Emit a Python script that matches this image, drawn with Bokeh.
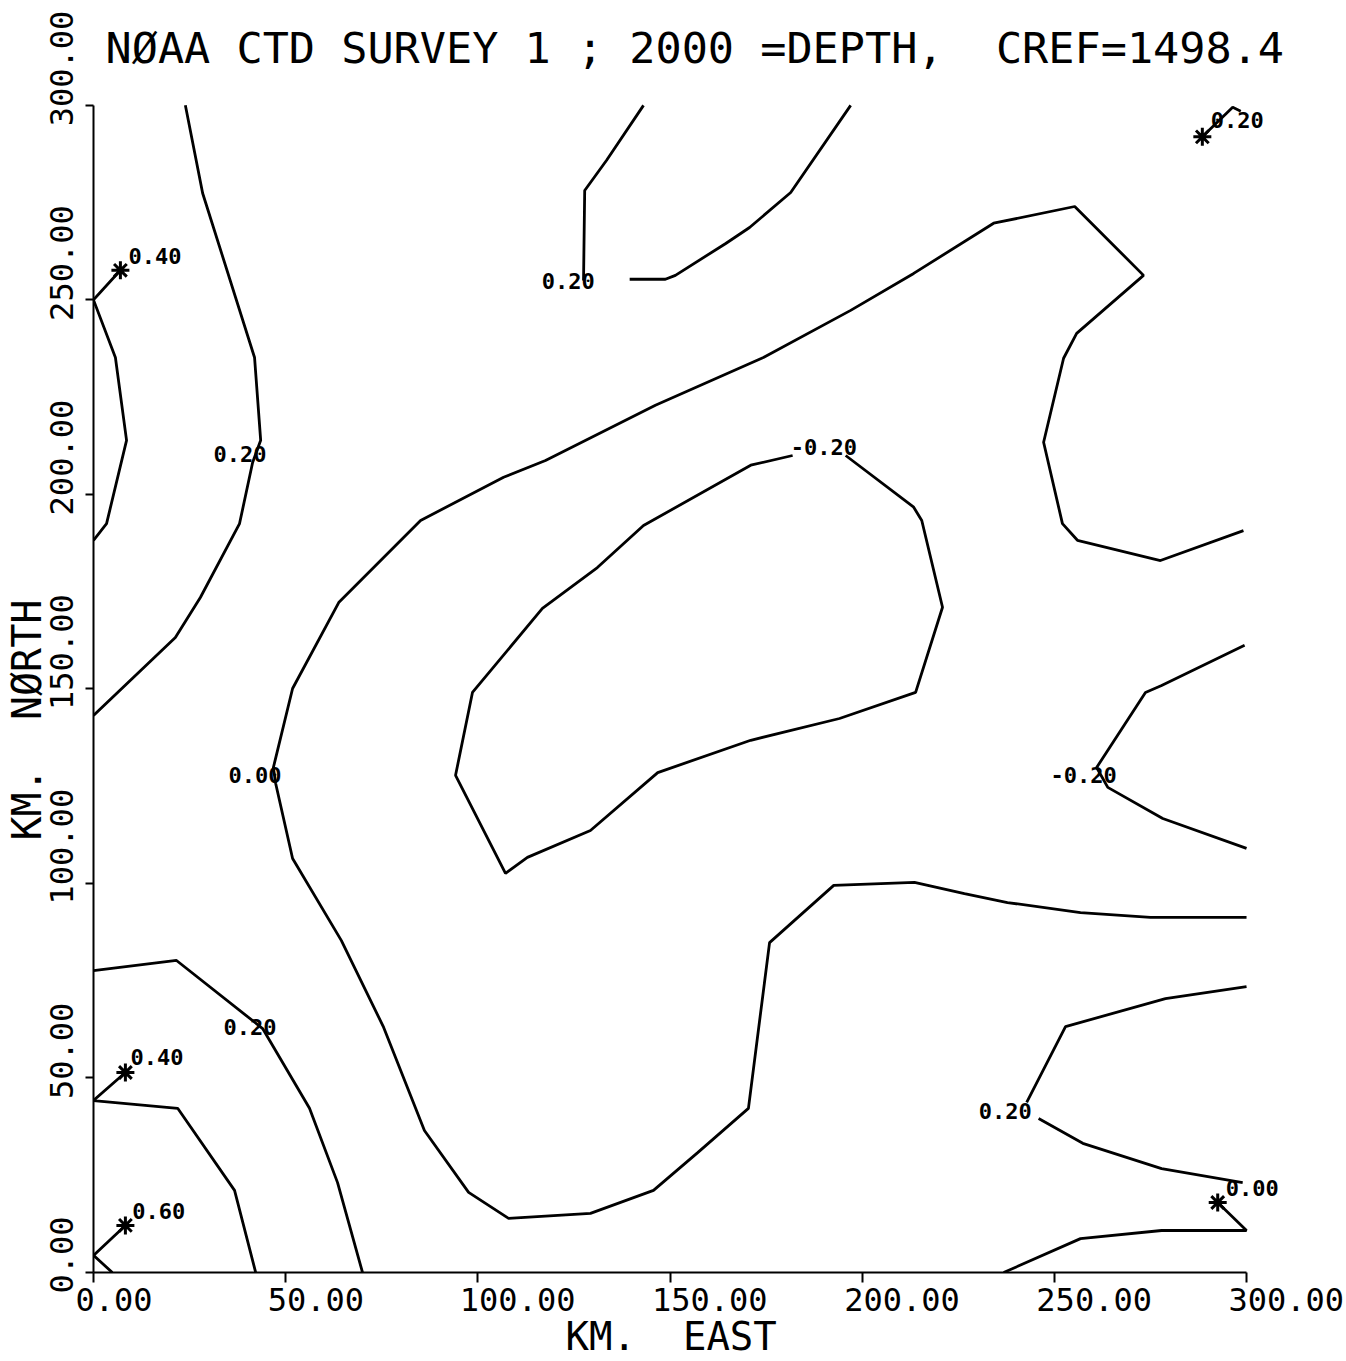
from bokeh.plotting import figure
from bokeh.models import FixedTicker, Range1d, ColumnDataSource, LinearAxis, Title
from bokeh.core.properties import value
from bokeh.embed import file_html
from bokeh.resources import INLINE

# ---------------- data ----------------
NB = "\u00a0"  # keeps the plotter's double spacing (SVG collapses plain double spaces)
TITLE = "NØAA CTD SURVEY 1 ; 2000 =DEPTH," + NB + " CREF=1498.4"
X_TITLE = "KM." + NB + " EAST"
Y_TITLE = "KM." + NB + " NØRTH"
X_TICKS = [0, 50, 100, 150, 200, 250, 300]
Y_TICKS = [0, 50, 100, 150, 200, 250, 300]

# contour polylines (km east, km north)
c020_nw_x = [23.9, 28.4, 41.9, 43.5, 41.4, 38.0, 27.8, 21.3, 0.0]
c020_nw_y = [300.0, 277.4, 235.2, 213.9, 208.2, 192.5, 173.5, 163.2, 143.2]

c040_nw_x = [7.0, 0.0, 5.7, 8.6, 3.4, 0.0]
c040_nw_y = [257.6, 250.0, 235.2, 213.9, 192.5, 188.2]

c000_main_x = [299.2, 277.6, 256.0, 252.1, 247.2, 252.4, 255.8, 273.2, 255.3, 234.2,
               213.4, 197.0, 174.3, 146.2, 117.6, 106.7, 85.1, 63.8, 51.8, 46.8,
               47.4, 51.8, 64.5, 75.5, 86.1, 97.6, 108.0, 129.3, 145.7, 157.2,
               170.4, 175.9, 192.6, 213.6, 226.6, 237.8, 256.8, 275.0, 300.0]
c000_main_y = [190.7, 183.0, 188.2, 192.5, 213.4, 235.0, 241.4, 256.3, 274.0, 269.7,
               256.8, 247.3, 235.2, 222.9, 208.7, 204.4, 193.3, 172.2, 150.1, 129.8,
               125.7, 106.4, 85.3, 63.0, 36.5, 20.6, 13.9, 15.2, 21.1, 30.8,
               42.2, 84.8, 99.5, 100.3, 97.4, 95.1, 92.5, 91.3, 91.3]

cm020_mid_x = [181.9, 171.0, 143.1, 131.1, 116.8, 98.6, 94.2, 107.2, 112.9, 129.3,
               146.8, 171.0, 194.1, 213.9, 220.9, 215.5, 213.4, 195.7]
cm020_mid_y = [210.0, 207.5, 192.0, 181.2, 170.7, 149.1, 127.8, 102.6, 106.7, 113.6,
               128.5, 136.8, 142.4, 149.1, 171.0, 193.3, 196.7, 210.0]

cm020_east_x = [299.5, 277.9, 273.7, 261.0, 263.9, 278.2, 300.0]
cm020_east_y = [161.2, 150.9, 149.1, 129.8, 124.7, 116.7, 109.0]

c020_n1_x = [143.1, 133.5, 127.8, 127.5]
c020_n1_y = [300.0, 285.9, 278.1, 255.0]
c020_n2_x = [139.5, 148.8, 151.4, 164.5, 170.7, 181.4, 197.0]
c020_n2_y = [255.3, 255.3, 256.3, 264.5, 268.6, 277.6, 300.0]

c020_ne_x = [288.5, 296.4, 298.5]
c020_ne_y = [291.9, 299.5, 298.5]

c040_sw_x = [8.3, 0.0, 21.9, 36.7, 42.2]
c040_sw_y = [51.4, 44.2, 42.2, 21.1, 0.0]

c020_sw_x = [0.0, 21.6, 44.0, 56.2, 63.5, 70.0]
c020_sw_y = [77.6, 80.2, 62.7, 42.2, 23.1, 0.0]

c060_sw_x = [8.3, 0.0, 4.9]
c060_sw_y = [12.1, 4.4, 0.0]

c020_se1_x = [300.0, 278.9, 252.9, 242.8]
c020_se1_y = [73.5, 70.4, 63.2, 43.7]
c020_se2_x = [245.9, 257.4, 277.9, 299.0]
c020_se2_y = [39.6, 33.2, 26.7, 23.1]

c000_se_x = [292.5, 300.0, 277.9, 256.8, 236.8]
c000_se_y = [18.0, 10.8, 10.8, 8.7, 0.0]

# station markers (*)
star_x = [7.0, 8.3, 8.3, 288.5, 292.5]
star_y = [257.6, 51.4, 12.1, 291.9, 18.0]

# contour value labels (left edge x, centre y)
clab_text = ["0.40", "0.20", "0.20", "0.20", "-0.20", "0.00", "-0.20",
             "0.20", "0.40", "0.60", "0.20", "0.00"]
clab_x = [9.1, 31.2, 116.6, 290.7, 181.4, 35.1, 249.0, 33.8, 9.6, 10.1, 230.3, 294.6]
clab_y = [261.4, 210.5, 254.8, 296.2, 212.1, 127.8, 127.8, 63.0, 55.3, 15.9, 41.6, 21.6]

CONTOURS = [
    (c020_nw_x, c020_nw_y), (c040_nw_x, c040_nw_y), (c000_main_x, c000_main_y),
    (cm020_mid_x, cm020_mid_y), (cm020_east_x, cm020_east_y),
    (c020_n1_x, c020_n1_y), (c020_n2_x, c020_n2_y), (c020_ne_x, c020_ne_y),
    (c040_sw_x, c040_sw_y), (c020_sw_x, c020_sw_y), (c060_sw_x, c060_sw_y),
    (c020_se1_x, c020_se1_y), (c020_se2_x, c020_se2_y), (c000_se_x, c000_se_y),
]

# ---------------- layout ----------------
PAGE_W, PAGE_H = 1346, 1361
KX = 1153 / 300.0          # px per km east
KY = 1167 / 300.0          # px per km north
XMAX, YMAX = 313.0, 310.5  # ranges run a little past the 300 km axes
ML, MB = 93, 89
FW = int(round(XMAX * KX))
FH = int(round(YMAX * KY))
MT = PAGE_H - MB - FH
MR = PAGE_W - ML - FW

FONT = "DejaVu Sans Mono"
ADV = 0.602                 # advance of a mono glyph, per em
TICK_FS = 32


def fmt(t):
    return "%.2f" % t


p = figure(frame_width=FW, frame_height=FH,
           x_range=Range1d(0, XMAX), y_range=Range1d(0, YMAX),
           output_backend="svg", toolbar_location=None,
           min_border_left=ML, min_border_right=MR, min_border_top=MT, min_border_bottom=MB)
p.xgrid.visible = False
p.ygrid.visible = False
p.outline_line_color = None
p.background_fill_color = "white"
p.border_fill_color = "white"

p.title.text = TITLE
p.title.text_font = FONT
p.title.text_font_size = "43.5px"
p.title.text_font_style = "normal"
p.title.text_color = "black"
p.title.align = "left"
p.title.offset = 12
p.title.standoff = -16

# axes carrying the rule and the ticks
for ax, ticks, tout in ((p.xaxis[0], X_TICKS, 10), (p.yaxis[0], Y_TICKS, 8)):
    ax.ticker = FixedTicker(ticks=ticks)
    ax.bounds = (0, 300)
    ax.axis_line_width = 2
    ax.axis_line_color = "black"
    ax.major_tick_line_width = 2
    ax.major_tick_line_color = "black"
    ax.major_tick_in = 0
    ax.major_tick_out = tout
    ax.minor_tick_line_color = None
    ax.major_label_overrides = {t: "" for t in ticks}
    ax.major_label_text_font_size = "1px"
    ax.major_label_standoff = 0

# axes carrying the tick labels (plotter style: label starts just before the tick)
xlab_pos = [round(t + (len(fmt(t)) * ADV * TICK_FS / 2 - 18) / KX, 4) for t in X_TICKS]
ylab_pos = [round(t + (len(fmt(t)) * ADV * TICK_FS / 2 - 21) / KY, 4) for t in Y_TICKS]

xlab_axis = LinearAxis(ticker=FixedTicker(ticks=xlab_pos),
                       major_label_overrides={pos: fmt(t) for pos, t in zip(xlab_pos, X_TICKS)})
ylab_axis = LinearAxis(ticker=FixedTicker(ticks=ylab_pos),
                       major_label_overrides={pos: fmt(t) for pos, t in zip(ylab_pos, Y_TICKS)},
                       major_label_orientation="vertical")
for ax, so in ((xlab_axis, 5), (ylab_axis, 12)):
    ax.axis_line_color = None
    ax.major_tick_line_color = None
    ax.minor_tick_line_color = None
    ax.major_tick_in = 0
    ax.major_tick_out = 0
    ax.major_label_text_font = FONT
    ax.major_label_text_font_size = "%dpx" % TICK_FS
    ax.major_label_text_color = "black"
    ax.major_label_standoff = so
p.add_layout(xlab_axis, "below")
p.add_layout(ylab_axis, "left")

# axis titles
p.add_layout(Title(text=X_TITLE, text_font=FONT, text_font_size="39px", text_font_style="normal",
                   text_color="black", align="left", offset=472, standoff=0,
                   vertical_align="top"), "below")
p.add_layout(Title(text=Y_TITLE, text_font=FONT, text_font_size="40px", text_font_style="normal",
                   text_color="black", align="left", offset=432, standoff=-5), "left")

# contour lines
for xs, ys in CONTOURS:
    p.line(xs, ys, line_color="black", line_width=2.8)

p.scatter(star_x, star_y, marker="asterisk", size=18, line_width=3, line_color="black")

src = ColumnDataSource(dict(x=clab_x, y=clab_y, t=clab_text))
p.text(x="x", y="y", text="t", source=src, text_font=value(FONT),
       text_font_size=value("22px"), text_font_style="bold", text_color="black",
       text_align="left", text_baseline="middle")

open("out.html", "w").write(file_html(p, INLINE))
